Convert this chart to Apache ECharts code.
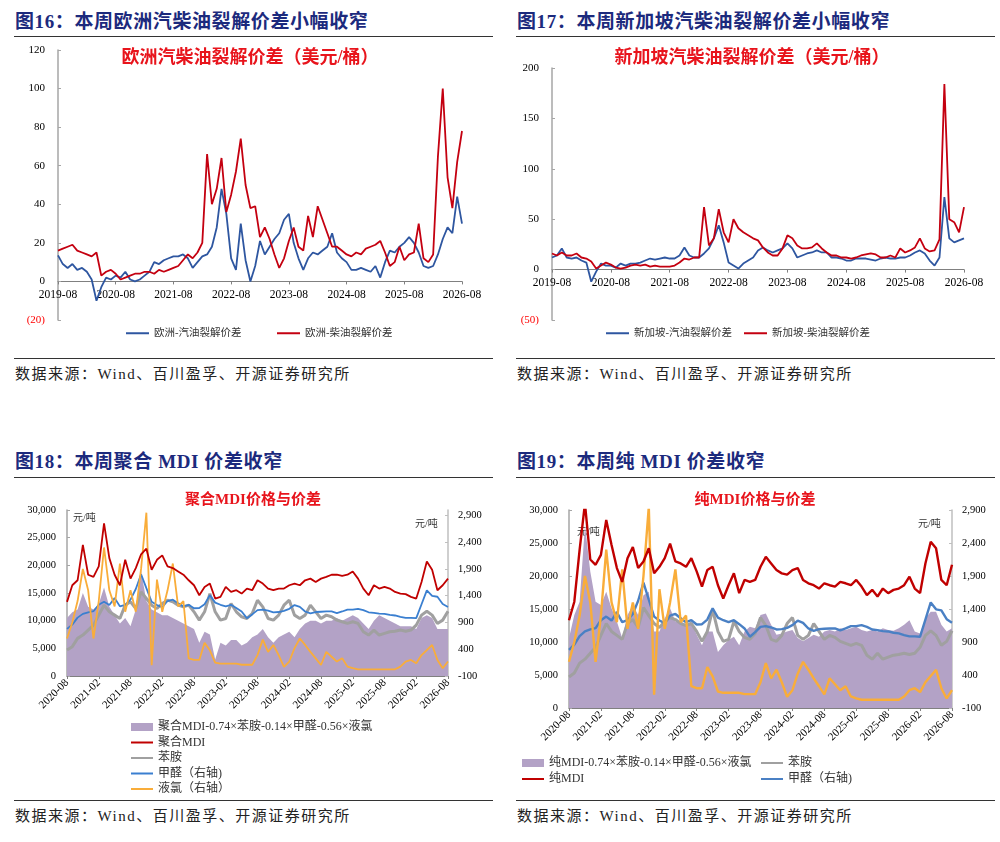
<!DOCTYPE html>
<html lang="zh">
<head>
    <meta charset="UTF-8">
    <title>裂解价差与MDI价差</title>
    <script src="https://cdn.jsdelivr.net/npm/echarts@6/dist/echarts.min.js"></script>
    <style>
        body {
            margin: 0;
            width: 1000px;
            height: 842px;
            background: #fff;
            position: relative;
            font-family: 'Liberation Serif', 'Noto Sans CJK SC', serif;
        }
        .head {
            position: absolute;
            font-size: 19px;
            line-height: 19px;
            letter-spacing: 0.6px;
            font-weight: bold;
            color: #1c2a7d;
            white-space: nowrap;
        }
        .rule {
            position: absolute;
            width: 479px;
            border-top: 1px solid #333;
        }
        .src {
            position: absolute;
            font-size: 15px;
            line-height: 15px;
            letter-spacing: 1.5px;
            color: #222;
            white-space: nowrap;
        }
        .box {
            position: absolute;
            width: 480px;
            height: 315px;
        }
        .box.tall {
            height: 317px;
        }
    </style>
</head>

<body>
    <div class="head" style="left:15px;top:12px">图16：本周欧洲汽柴油裂解价差小幅收窄</div>
    <div class="rule" style="left:14px;top:36px"></div>
    <div id="c16" class="box" style="left:14px;top:40px"></div>
    <div class="rule" style="left:14px;top:358px"></div>
    <div class="src" style="left:15px;top:367px">数据来源：Wind、百川盈孚、开源证券研究所</div>

    <div class="head" style="left:517px;top:12px">图17：本周新加坡汽柴油裂解价差小幅收窄</div>
    <div class="rule" style="left:516px;top:36px"></div>
    <div id="c17" class="box" style="left:516px;top:40px"></div>
    <div class="rule" style="left:516px;top:358px"></div>
    <div class="src" style="left:517px;top:367px">数据来源：Wind、百川盈孚、开源证券研究所</div>

    <div class="head" style="left:15px;top:452px">图18：本周聚合 MDI 价差收窄</div>
    <div class="rule" style="left:14px;top:477px"></div>
    <div id="c18" class="box tall" style="left:14px;top:482px"></div>
    <div class="rule" style="left:14px;top:800px"></div>
    <div class="src" style="left:15px;top:809px">数据来源：Wind、百川盈孚、开源证券研究所</div>

    <div class="head" style="left:517px;top:452px">图19：本周纯 MDI 价差收窄</div>
    <div class="rule" style="left:516px;top:477px"></div>
    <div id="c19" class="box tall" style="left:516px;top:482px"></div>
    <div class="rule" style="left:516px;top:800px"></div>
    <div class="src" style="left:517px;top:809px">数据来源：Wind、百川盈孚、开源证券研究所</div>
</body>
<script>
const FONT = "'Liberation Serif','Noto Sans CJK SC',serif";

// 月度标签 yyyy-mm
function months(y0, m0, n) {
    const out = [];
    for (let i = 0; i < n; i++) {
        const t = m0 - 1 + i;
        out.push((y0 + Math.floor(t / 12)) + '-' + String(t % 12 + 1).padStart(2, '0'));
    }
    return out;
}

// 图16/17：2019-08 ~ 2026-08 月度（美元/桶）
const crackMonths = months(2019, 8, 85);
const euGasCrack = [13.5, 9, 7, 9, 6,
    7, 5, 1, -10, -3, 2, 1, 3, 2, 5, 1, 0,
    1, 3, 5, 10, 9, 11, 12, 13, 13, 14, 12, 7,
    10, 13, 14, 18, 28, 48, 35, 12, 6, 30, 11, 0,
    8, 21, 14, 18, 22, 25, 32, 35, 20, 12, 6, 12,
    15, 14, 16, 18, 25, 15, 12, 10, 6, 6, 7, 6,
    5, 8, 2, 10, 16, 15, 18, 20, 23, 20, 15, 8,
    7, 8, 14, 22, 28, 25, 44, 30];
const euDieselCrack = [16, 17, 18, 19, 16,
    15, 14, 13, 15, 3, 5, 6, 4, 1, 2, 3, 4,
    4, 5, 5, 4, 6, 5, 6, 7, 8, 11, 14, 12,
    15, 20, 66, 40, 48, 64, 36, 45, 57, 74, 50, 38,
    39, 23, 28, 22, 14, 7, 12, 21, 28, 18, 16, 34,
    23, 39, 32, 25, 18, 18, 16, 14, 13, 15, 14, 17,
    18, 19, 21, 15, 8, 10, 18, 11, 14, 15, 30, 12,
    10, 14, 65, 100, 54, 38, 62, 78];
const sgGasCrack = [12, 14, 21, 12, 11,
    12, 9, 7, -12, -2, 6, 4, 4, 2, 6, 4, 6,
    6, 7, 9, 11, 10, 11, 12, 11, 11, 14, 22, 14,
    12, 12, 16, 21, 31, 44, 27, 7, 4, 1, 6, 9,
    12, 19, 22, 19, 17, 19, 21, 26, 21, 12, 14, 16,
    17, 19, 17, 17, 12, 12, 11, 9, 9, 11, 11, 11,
    10, 9, 11, 12, 11, 11, 12, 12, 14, 17, 19, 16,
    9, 4, 12, 72, 31, 27, 29, 31];
const sgDieselCrack = [16, 14, 17, 14, 14,
    16, 12, 11, 8, 1, 4, 7, 5, 2, 1, 2, 4,
    5, 4, 5, 3, 4, 3, 3, 3, 4, 7, 11, 10,
    12, 12, 62, 24, 31, 60, 37, 27, 50, 41, 37, 34,
    31, 29, 22, 17, 14, 14, 21, 34, 31, 24, 21, 21,
    22, 26, 21, 17, 14, 14, 12, 12, 11, 12, 14, 15,
    16, 15, 12, 12, 14, 12, 21, 17, 19, 22, 31, 21,
    18, 19, 30, 184, 50, 47, 37, 62];

// 图18/19：2020-08 ~ 2026-08 月度（元/吨）
const mdiMonths = months(2020, 8, 73);
const polyMdiSpread = [10500, 11500, 12000, 15000, 12500,
    12000, 13000, 16000, 12500, 11000, 9500, 10500, 9000, 12000, 19000, 13500, 12000,
    11500, 11000, 11000, 10500, 10000, 9500, 9000, 8500, 6000, 8000, 7500, 3000,
    6000, 5500, 6500, 6500, 5500, 6000, 7000, 7500, 8500, 7000, 6000, 7000,
    7500, 8000, 7000, 8500, 9500, 10000, 10000, 9500, 10000, 10000, 10500, 10000,
    10500, 11000, 10500, 9500, 8500, 10000, 11000, 10500, 10000, 9500, 9000, 9000,
    9000, 8500, 10500, 11000, 10500, 8500, 8500, 8500];
const polyMdiPrice = [13400, 16400, 17300, 23700, 18300,
    17900, 19800, 27600, 21300, 18300, 16400, 21000, 17600, 19500, 22000, 23000, 19200,
    21000, 21800, 19800, 19500, 18900, 18300, 17300, 16400, 14600, 16100, 16700, 14000,
    14300, 16100, 15200, 15500, 14900, 15800, 15500, 17300, 16700, 15800, 15500, 15800,
    15800, 16400, 16700, 16400, 17300, 17600, 17000, 17600, 17900, 18300, 18300, 18100,
    18300, 18900, 17600, 15800, 14600, 16400, 15800, 16100, 15800, 15200, 14900, 14800,
    14300, 14000, 17000, 20700, 19200, 15500, 16400, 17600];
const pureMdiSpread = [10600, 14100, 16100, 27700, 20700,
    16100, 15600, 17600, 15100, 13100, 10600, 14100, 15600, 14100, 17100, 17600, 11600,
    11600, 13600, 15100, 13100, 13100, 12600, 13100, 11100, 9500, 11600, 11600, 8500,
    9500, 10300, 10800, 9500, 11600, 12300, 12100, 14100, 14300, 12600, 11100, 11300,
    11600, 11800, 10600, 10100, 10600, 11100, 10800, 11600, 11800, 11600, 12100, 11800,
    12100, 12300, 11800, 11600, 11800, 11600, 12100, 11800, 11700, 12100, 12600, 13300,
    11600, 11300, 13600, 14600, 14600, 12600, 11600, 12100];
const pureMdiPrice = [13300, 16100, 24000, 31000, 22500,
    21700, 23200, 28500, 24700, 21200, 19100, 22700, 24400, 21200, 22200, 24200, 20400,
    21400, 22700, 24900, 22200, 21900, 21400, 22700, 20700, 18400, 20900, 21400, 18600,
    16600, 18600, 20400, 17400, 19400, 19100, 19400, 21400, 22900, 21900, 20900, 20400,
    20200, 20900, 21200, 19400, 18900, 18600, 18100, 18900, 18600, 18400, 19100, 18900,
    18600, 19400, 18400, 17100, 17900, 16900, 18100, 17400, 17900, 18100, 18600, 19900,
    18100, 17400, 21900, 25200, 24200, 19400, 18600, 21700];
const aniline = [4700, 5300, 6800, 7400, 8300,
    9200, 11000, 12800, 11600, 11000, 10400, 12800, 13400, 12200, 15200, 14000, 12800,
    12200, 13100, 13700, 13400, 12800, 12500, 12800, 11600, 10100, 11600, 14900, 11600,
    10100, 10400, 13100, 11600, 10700, 10400, 11300, 13700, 12500, 10400, 10100, 11000,
    12800, 13700, 11000, 10400, 11000, 12800, 11600, 10400, 11000, 10700, 10100, 9800,
    9500, 9800, 9500, 8000, 7400, 8300, 7400, 7700, 8000, 8100, 8300, 8100,
    8300, 9200, 11000, 11700, 11000, 9500, 10100, 11700];
const formaldehyde = [780, 860, 990, 1060, 1090,
    1110, 1230, 1285, 1225, 1355, 1200, 1230, 1325, 1525, 1800, 1540, 1285,
    1225, 1185, 1300, 1325, 1260, 1200, 1230, 1165, 1170, 1240, 1410, 1270,
    1230, 1200, 1230, 1170, 1105, 980, 1050, 1130, 1140, 1120, 1090, 1095,
    1115, 1155, 1225, 1190, 1105, 1070, 1095, 1100, 1105, 1105, 1075, 1105,
    1140, 1140, 1155, 1130, 1090, 1080, 1065, 1060, 1040, 1030, 1005, 985,
    985, 980, 1240, 1500, 1395, 1380, 1245, 1190];
const chlorine = [600, 900, 1300, 1900, 1500,
    600, 1300, 2300, 1500, 1200, 2000, 1100, 1500, 1100, 1900, 2950, 100,
    1700, 1100, 1500, 2000, 1200, 1300, 230, 200, 200, 520, 380, 150,
    130, 130, 130, 130, 110, 110, 110, 290, 580, 350, 480, 290,
    70, 170, 420, 600, 480, 350, 230, 105, 350, 260, 170, 230,
    75, 45, 25, 25, 25, 25, 25, 25, 25, 25, 75, 170,
    200, 140, 290, 385, 480, 200, 45, 170];

const RED = '#c40010';
const BLUE = '#2e56a0';
const PURPLE = '#b3a2c6';

function titleText(text, x, y, size) {
    return {
        type: 'text', x: x, y: y, silent: true,
        style: {
            text: text, font: 'bold ' + size + 'px ' + FONT, fill: '#e8141c',
            align: 'center', textAlign: 'center', verticalAlign: 'top', textVerticalAlign: 'top'
        }
    };
}
function unitText(x, y) {
    return {
        type: 'text', x: x, y: y, silent: true,
        style: { text: '元/吨', font: '10px ' + FONT, fill: '#333', verticalAlign: 'top', textVerticalAlign: 'top' }
    };
}
// 折线图例只画线，不画圆点
function lineLegend(names, left, top, gap) {
    return {
        data: names, left: left, top: top, orient: 'vertical', padding: 0,
        itemWidth: 22, itemHeight: 8, itemGap: gap,
        itemStyle: { opacity: 0 },
        textStyle: { fontSize: 12, lineHeight: 13, color: '#333', fontFamily: FONT }
    };
}
const spreadItem = (name) => ({ name: name, icon: 'rect', itemStyle: { opacity: 1, color: PURPLE } });

// 裂解价差图（图16、图17）
function crackChart(id, o) {
    const chart = echarts.init(document.getElementById(id));
    const yearly = (idx) => idx % 12 === 0;
    const plotH = 315 - o.grid.top - o.grid.bottom;
    const zeroOffset = -plotH * (0 - o.min) / (o.max - o.min);
    const legendStyle = {
        top: 288, padding: 0, itemWidth: 23, itemHeight: 10,
        itemStyle: { opacity: 0 },
        textStyle: { fontSize: 10.5, color: '#333', fontFamily: FONT }
    };
    chart.setOption({
        animation: false,
        textStyle: { fontFamily: FONT },
        graphic: [titleText(o.title, 236, 9, 18)],
        grid: o.grid,
        legend: [
            Object.assign({ data: [o.names[0]], left: o.legendX[0] }, legendStyle),
            Object.assign({ data: [o.names[1]], left: o.legendX[1] }, legendStyle)
        ],
        xAxis: {
            type: 'category',
            data: crackMonths,
            boundaryGap: false,
            offset: zeroOffset,
            axisLine: { onZero: false, lineStyle: { color: '#808080' } },
            axisTick: { interval: yearly, length: 3, lineStyle: { color: '#808080' } },
            axisLabel: { interval: yearly, fontSize: 11.5, color: '#000', margin: 8 },
            splitLine: { show: false }
        },
        yAxis: {
            type: 'value',
            min: o.min, max: o.max, interval: o.step,
            axisLine: { show: true, lineStyle: { color: '#a6a6a6', width: 1.5 } },
            axisTick: { show: true, inside: true, length: 3, lineStyle: { color: '#a6a6a6' } },
            axisLabel: {
                fontSize: 11, margin: 13,
                formatter: (v) => v < 0 ? '(' + (-v) + ')' : String(v),
                color: (v) => Number(v) < 0 ? '#ff0000' : '#000'
            },
            splitLine: { show: false }
        },
        series: [
            { name: o.names[0], type: 'line', data: o.gas, symbol: 'none', lineStyle: { color: BLUE, width: 1.8 }, itemStyle: { color: BLUE } },
            { name: o.names[1], type: 'line', data: o.diesel, symbol: 'none', lineStyle: { color: RED, width: 1.8 }, itemStyle: { color: RED } }
        ]
    });
}

crackChart('c16', {
    title: '欧洲汽柴油裂解价差（美元/桶）',
    names: ['欧洲-汽油裂解价差', '欧洲-柴油裂解价差'],
    gas: euGasCrack, diesel: euDieselCrack,
    min: -20, max: 120, step: 20,
    grid: { left: 44, right: 32, top: 10, bottom: 35 },
    legendX: [111, 262]
});
crackChart('c17', {
    title: '新加坡汽柴油裂解价差（美元/桶）',
    names: ['新加坡-汽油裂解价差', '新加坡-柴油裂解价差'],
    gas: sgGasCrack, diesel: sgDieselCrack,
    min: -50, max: 200, step: 50,
    grid: { left: 36, right: 32, top: 28, bottom: 35 },
    legendX: [89, 227]
});

// MDI 价格与价差（图18、图19）
function mdiChart(id, o) {
    const chart = echarts.init(document.getElementById(id));
    const halfYear = (idx) => idx % 6 === 0;
    const thousands = (v) => Number(v).toLocaleString('en-US');
    chart.setOption({
        animation: false,
        textStyle: { fontFamily: FONT },
        graphic: [titleText(o.title, 239, 11, 15), unitText(o.unitL[0], o.unitL[1]), unitText(o.unitR[0], o.unitR[1])],
        grid: o.grid,
        legend: o.legend,
        xAxis: {
            type: 'category',
            data: mdiMonths,
            boundaryGap: false,
            axisLine: { onZero: false, lineStyle: { color: '#808080' } },
            axisTick: { interval: halfYear, length: 3, lineStyle: { color: '#808080' } },
            axisLabel: { interval: halfYear, rotate: 45, fontSize: 11, color: '#000', margin: 5 },
            splitLine: { show: false }
        },
        yAxis: [
            {
                type: 'value', min: 0, max: 30000, interval: 5000,
                axisLine: { show: true, lineStyle: { color: '#a6a6a6', width: 1.5 } },
                axisTick: { show: true, inside: true, length: 3, lineStyle: { color: '#a6a6a6' } },
                axisLabel: { fontSize: 10.5, color: '#000', margin: 11, formatter: thousands },
                splitLine: { show: false }
            },
            {
                type: 'value', min: -100, max: o.rightMax, interval: 500,
                axisLine: { show: true, lineStyle: { color: '#bfbfbf', width: 1.5 } },
                axisTick: { show: true, inside: true, length: 3, lineStyle: { color: '#bfbfbf' } },
                axisLabel: { fontSize: 10.5, color: '#000', margin: 10, formatter: thousands, showMaxLabel: o.rightMax === 2900 },
                splitLine: { show: false }
            }
        ],
        series: [
            {
                name: o.names[0], type: 'line', data: o.spread, symbol: 'none',
                lineStyle: { width: 0 }, itemStyle: { color: PURPLE },
                areaStyle: { color: PURPLE, opacity: 1 }
            },
            { name: o.names[2], type: 'line', data: aniline, symbol: 'none', lineStyle: { color: '#a0a0a0', width: 3 }, itemStyle: { color: '#a0a0a0' } },
            { name: o.names[3], type: 'line', yAxisIndex: 1, data: formaldehyde, symbol: 'none', lineStyle: { color: o.blue, width: o.thin }, itemStyle: { color: o.blue } },
            { name: o.names[4], type: 'line', yAxisIndex: 1, data: chlorine, symbol: 'none', lineStyle: { color: '#f9ad3a', width: o.thin }, itemStyle: { color: '#f9ad3a' } },
            { name: o.names[1], type: 'line', data: o.price, symbol: 'none', lineStyle: { color: '#c00000', width: o.thin }, itemStyle: { color: '#c00000' } }
        ]
    });
}

const polyNames = ['聚合MDI-0.74×苯胺-0.14×甲醛-0.56×液氯', '聚合MDI', '苯胺', '甲醛（右轴)', '液氯（右轴）'];
const pureNames = ['纯MDI-0.74×苯胺-0.14×甲醛-0.56×液氯', '纯MDI', '苯胺', '甲醛（右轴)', '液氯（右轴）'];

mdiChart('c18', {
    title: '聚合MDI价格与价差',
    names: polyNames,
    spread: polyMdiSpread, price: polyMdiPrice,
    rightMax: 3000,
    grid: { left: 53, right: 46, top: 28, bottom: 123 },
    unitL: [59, 31], unitR: [401, 37],
    blue: '#3a7fd0', thin: 1.8,
    legend: [lineLegend([spreadItem(polyNames[0]), polyNames[1], polyNames[2], polyNames[3], polyNames[4]], 116, 238.5, 2.5)]
});
mdiChart('c19', {
    title: '纯MDI价格与价差',
    names: pureNames,
    spread: pureMdiSpread, price: pureMdiPrice,
    rightMax: 2900,
    grid: { left: 53, right: 44, top: 28, bottom: 91 },
    unitL: [61, 45], unitR: [402, 37],
    blue: '#4a80c4', thin: 2.4,
    legend: [
        lineLegend([spreadItem(pureNames[0]), pureNames[1]], 5, 274.5, 3),
        lineLegend([pureNames[2], pureNames[3]], 244, 274.5, 3)
    ]
});
</script>
</html>
